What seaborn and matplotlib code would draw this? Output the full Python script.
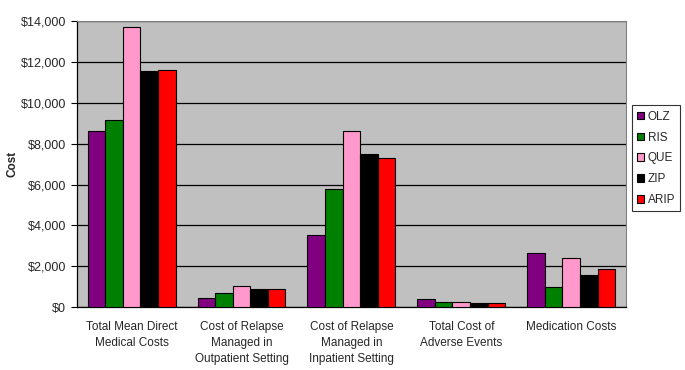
import matplotlib.pyplot as plt
import matplotlib.ticker as mticker
import seaborn as sns
import pandas as pd
import numpy as np

# cost categories and drugs
categories = ['Total Mean Direct\nMedical Costs',
              'Cost of Relapse\nManaged in\nOutpatient Setting',
              'Cost of Relapse\nManaged in\nInpatient Setting',
              'Total Cost of\nAdverse Events',
              'Medication Costs']
drugs = ['OLZ', 'RIS', 'QUE', 'ZIP', 'ARIP']

olz = [8600, 440, 3520, 390, 2640]
ris = [9150, 690, 5780, 245, 980]
que = [13700, 1030, 8610, 245, 2400]
zip_ = [11550, 880, 7490, 200, 1570]
arip = [11600, 880, 7290, 200, 1860]

colors = ['#800080', '#008000', '#FF99CC', '#000000', '#FF0000']

rows = []
for drug, vals in zip(drugs, [olz, ris, que, zip_, arip]):
    for cat, v in zip(categories, vals):
        rows.append({'category': cat, 'drug': drug, 'cost': v})
df = pd.DataFrame(rows)

sns.set_style('white')
plt.rcParams['font.family'] = ['Liberation Sans', 'DejaVu Sans']

fig = plt.figure(figsize=(6.85, 3.7), dpi=100)
ax = fig.add_axes([0.112, 0.170, 0.802, 0.773])
ax.set_facecolor('#C0C0C0')

sns.barplot(data=df, x='category', y='cost', hue='drug', order=categories,
            hue_order=drugs, palette=colors, width=0.8, edgecolor='black',
            linewidth=0.8, saturation=1, ax=ax, zorder=3)

ax.set_ylim(0, 14000)
ax.set_xlim(-0.5, len(categories) - 0.5)
ax.yaxis.set_major_locator(mticker.MultipleLocator(2000))
ax.yaxis.set_major_formatter(mticker.FuncFormatter(lambda v, p: f'${v:,.0f}'))
ax.grid(axis='y', color='black', linewidth=0.9, zorder=1)
ax.set_axisbelow(True)

# ticks between categories
ax.set_xticks(np.arange(len(categories)))
ax.set_xticklabels(categories, fontsize=8.5, linespacing=1.45)
ax.tick_params(axis='x', which='major', length=0, pad=10)
ax.set_xticks(np.arange(-0.5, len(categories)), minor=True)
ax.tick_params(axis='x', which='minor', length=4, direction='out', color='black')
ax.tick_params(axis='y', length=4, direction='out', color='black', labelsize=9, left=True)

for s in ['top', 'right']:
    ax.spines[s].set_color('#808080')
    ax.spines[s].set_linewidth(0.8)
for s in ['left', 'bottom']:
    ax.spines[s].set_color('black')
    ax.spines[s].set_linewidth(0.9)

ax.set_xlabel('')
ax.set_ylabel('Cost', fontsize=8.5, fontweight='bold')
ax.yaxis.set_label_coords(-0.106, 0.5)

leg = ax.legend(loc='center left', bbox_to_anchor=(1.01, 0.52), fontsize=8.5,
                frameon=True, fancybox=False, edgecolor='black',
                handlelength=0.6, handleheight=0.6, handletextpad=0.3,
                borderpad=0.45, labelspacing=0.75, borderaxespad=0)
leg.get_frame().set_linewidth(0.8)

fig.savefig('out.png', dpi=100, facecolor='white')
